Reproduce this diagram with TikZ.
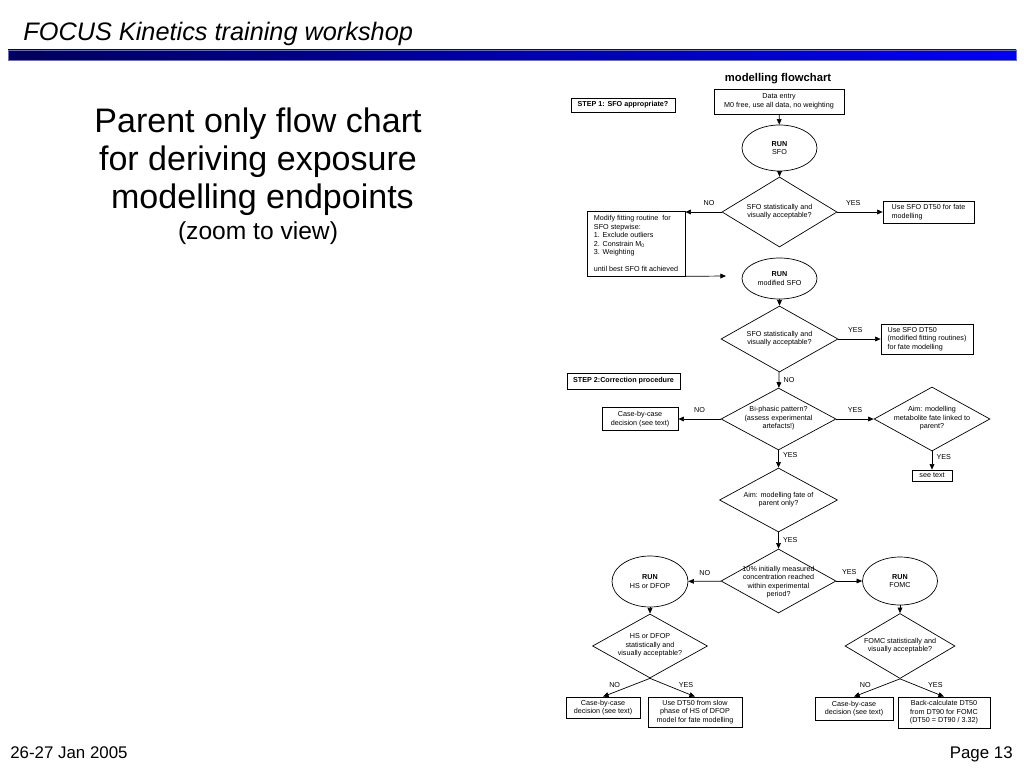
\documentclass[tikz,border=0pt]{standalone}
\usepackage{fontspec}
\setmainfont{Liberation Sans}
\usepackage{tikz}
\usetikzlibrary{positioning}
\usetikzlibrary{shapes}
\usetikzlibrary{arrows.meta}
\newdimen\px \px=0.025cm
\newcommand{\fc}{\fontsize{5.12pt}{6.05pt}\selectfont}
\newcommand{\dtxt}[2][-2pt]{\makebox[0pt]{\raisebox{#1}{\smash{\begin{tabular}{@{}c@{}}#2\end{tabular}}}}}
\definecolor{barleft}{RGB}{0,0,95}
\definecolor{barright}{RGB}{0,0,245}
\definecolor{baredge}{RGB}{110,110,180}

\begin{document}
\begin{tikzpicture}[x=0.025cm, y=-0.025cm, line width=0.5pt, >={Triangle[length=4pt,width=3.4pt]}]
	\tikzstyle{box}=[draw=black, rectangle, inner sep=0pt, font=\fc, align=center]
	\tikzstyle{lbox}=[box, align=left]
	\tikzstyle{run}=[draw=black, ellipse, inner sep=0pt, font=\fc, align=center]
	\tikzstyle{decision}=[draw=black, diamond, inner sep=0pt, font=\fc]
	\tikzstyle{lab}=[font=\fc, inner sep=1pt]
	
	\useasboundingbox (0,0) rectangle (1024,768);
	
	% slide frame
	\node at (23,41) [anchor=base west, inner sep=0pt, font=\fontsize{18pt}{21pt}\selectfont\itshape] (head) {FOCUS Kinetics training workshop};
	\shade[left color=barleft, right color=barright, draw=baredge, line width=0.3pt] (8,50) rectangle (1016,60);
	\node at (10,758) [anchor=base west, inner sep=0pt, font=\fontsize{12pt}{14pt}\selectfont] (date) {26-27 Jan 2005};
	\node at (1013,758) [anchor=base east, inner sep=0pt, font=\fontsize{12pt}{14pt}\selectfont] (page) {Page 13};
	
	\node at (258,107) [anchor=north, align=center, inner sep=0pt, font=\fontsize{24.2pt}{27.2pt}\selectfont] (title) {Parent only flow chart\\for deriving exposure\\\hspace*{9\px}modelling endpoints\\[-5.3pt]{\fontsize{17.5pt}{21pt}\selectfont (zoom to view)}};
	
	% step 1
	\node at (778,79) [inner sep=0pt, font=\fontsize{8pt}{9pt}\selectfont\bfseries] (chart) {modelling flowchart};
	\draw node at (623,105) [box, minimum width=104\px, minimum height=14\px, font=\fc\bfseries] (step1) {STEP 1: SFO appropriate?};
	\draw node at (779,101.5) [box, minimum width=130\px, minimum height=25\px] (data) {Data entry\\M0 free, use all data, no weighting};
	\draw node at (779.5,148) [run, minimum width=75\px, minimum height=46\px] (runsfo) {\textbf{RUN}\\SFO};
	\draw node at (779.5,212) [decision, minimum width=115\px, minimum height=70\px] (d1) {\dtxt{SFO statistically and\\visually acceptable?}};
	\draw node at (928.5,212) [lbox, minimum width=91\px, minimum height=22\px] (usesfo) {Use SFO DT50 for fate\\modelling};
	\draw node at (636,243.5) [lbox, minimum width=98\px, minimum height=65\px] (modify) {Modify fitting routine \ for\\SFO stepwise:\\1. Exclude outliers\\2. Constrain M\textsubscript{0}\\3. Weighting\\[6.05pt]until best SFO fit achieved};
	\coordinate (modend) at (726,276);
	
	\draw [->] (data) to (runsfo);
	\draw [->] (runsfo) to (d1);
	\draw [->] (d1) to node[lab, above=3pt, pos=0.35]{NO} (d1 -| modify.east);
	\draw [->] (d1) to node[lab, above=3pt, pos=0.35]{YES} (usesfo);
	\draw [->] (modify.south east) to (modend);
	
	\draw node at (779.5,278.5) [run, minimum width=75\px, minimum height=41\px] (runmod) {\textbf{RUN}\\modified SFO};
	\draw node at (779.5,339) [decision, minimum width=117\px, minimum height=66\px] (d2) {\dtxt{SFO statistically and\\visually acceptable?}};
	\draw node at (927,339) [lbox, minimum width=92\px, minimum height=30\px] (usemod) {Use SFO DT50\\(modified fitting routines)\\for fate modelling};
	
	\draw [->] (runmod) to (d2);
	\draw [->] (d2) to node[lab, above=3pt, pos=0.4]{YES} (usemod);
	
	% step 2
	\draw node at (623.5,381) [box, minimum width=113\px, minimum height=16\px, font=\fc\bfseries] (step2) {STEP 2:Correction procedure};
	\draw node at (778.5,419) [decision, minimum width=115\px, minimum height=62\px] (d3) {\dtxt{Bi-phasic pattern?\\(assess experimental\\artefacts!)}};
	\draw node at (640,419) [box, minimum width=76\px, minimum height=23\px] (case1) {Case-by-case\\decision (see text)};
	\draw node at (932,419) [decision, minimum width=116\px, minimum height=64\px] (d4) {\dtxt{Aim: modelling\\metabolite fate linked to\\parent?}};
	\draw node at (932,475.5) [box, minimum width=40\px, minimum height=11\px] (seetext) {see text};
	\draw node at (778.5,500) [decision, minimum width=118\px, minimum height=64\px] (d5) {\dtxt{Aim: modelling fate of\\parent only?}};
	
	\draw [->] (d2) to node[lab, right=2pt]{NO} (d3);
	\draw [->] (d3) to node[lab, above=3pt]{NO} (case1);
	\draw [->] (d3) to node[lab, above=3pt]{YES} (d4);
	\draw [->] (d4) to node[lab, right=2pt, pos=0.3]{YES} (seetext);
	\draw [->] (d3) to node[lab, right=2pt, pos=0.25]{YES} (d5);
	
	\draw node at (778.5,581) [decision, minimum width=115\px, minimum height=64\px] (d6) {\dtxt[-4.5pt]{10\% initially measured\\concentration reached\\within experimental\\period?}};
	\draw node at (650,581.5) [run, minimum width=76\px, minimum height=51\px] (runhs) {\textbf{RUN}\\HS or DFOP};
	\draw node at (900,581) [run, minimum width=75\px, minimum height=48\px] (runfomc) {\textbf{RUN}\\FOMC};
	
	\draw [->] (d5) to node[lab, right=2pt]{YES} (d6);
	\draw [->] (d6) to node[lab, above=3pt]{NO} (runhs);
	\draw [->] (d6) to node[lab, above=3pt]{YES} (runfomc);
	
	\draw node at (650,646) [decision, minimum width=115\px, minimum height=64\px] (d7) {\dtxt{HS or DFOP\\statistically and\\visually acceptable?}};
	\draw node at (900,646) [decision, minimum width=110\px, minimum height=65\px] (d8) {\dtxt{FOMC statistically and\\visually acceptable?}};
	\draw node at (603,707.5) [box, minimum width=74\px, minimum height=21\px] (case2) {Case-by-case\\decision (see text)};
	\draw node at (695,712) [box, minimum width=94\px, minimum height=30\px] (usedt) {Use DT50 from slow\\phase of HS of DFOP\\model for fate modelling};
	\draw node at (854,708.5) [box, minimum width=78\px, minimum height=23\px] (case3) {Case-by-case\\decision (see text)};
	\draw node at (944,712.5) [box, minimum width=92\px, minimum height=31\px] (backcalc) {Back-calculate DT50\\from DT90 for FOMC\\(DT50 = DT90 / 3.32)};
	
	\draw [->] (runhs) to (d7);
	\draw [->] (runfomc) to (d8);
	\draw [->] (d7.south) to node[lab, above left, pos=0.6]{NO} (case2.north);
	\draw [->] (d7.south) to node[lab, above right, pos=0.6]{YES} (usedt.north);
	\draw [->] (d8.south) to node[lab, above left, pos=0.6]{NO} (case3.north);
	\draw [->] (d8.south) to node[lab, above right, pos=0.6]{YES} (backcalc.north);
\end{tikzpicture}
\end{document}
